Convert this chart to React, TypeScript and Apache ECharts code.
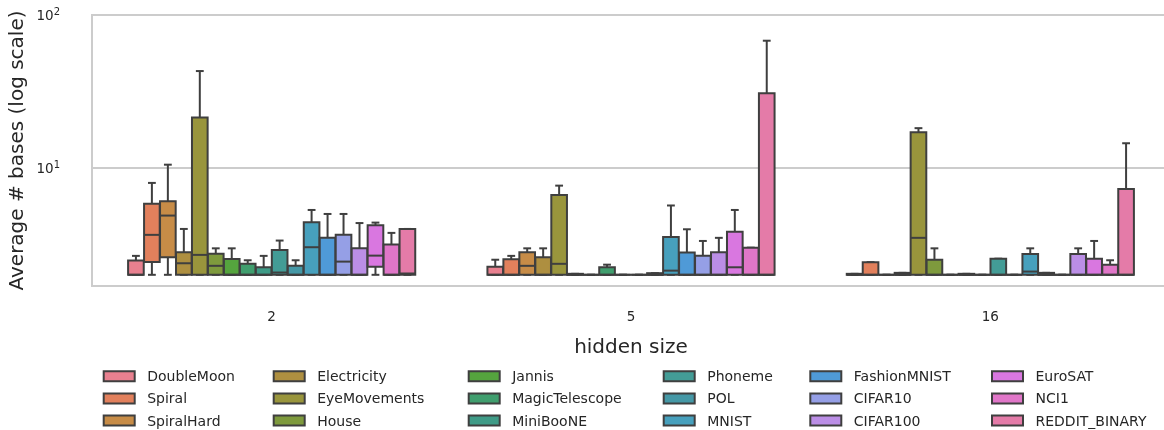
import React, { useEffect, useRef } from 'react';
import * as echarts from 'echarts';

const hiddenSizes = ['2', '5', '16'];

const datasetNames = [
  'DoubleMoon', 'Spiral', 'SpiralHard',
  'Electricity', 'EyeMovements', 'House',
  'Jannis', 'MagicTelescope', 'MiniBooNE',
  'Phoneme', 'POL', 'MNIST',
  'FashionMNIST', 'CIFAR10', 'CIFAR100',
  'EuroSAT', 'NCI1', 'REDDIT_BINARY',
];

const datasetColors = [
  '#e8808f', '#e2805c', '#c78c47',
  '#ae8f40', '#99953c', '#7e9a3d',
  '#55a43e', '#409e6e', '#3f9b87',
  '#439c96', '#4598a6', '#47a0bd',
  '#4f9ad7', '#959fe6', '#bb8ee6',
  '#d977e0', '#e076c8', '#e47ba8',
];

// [lower whisker, Q1, median, Q3, upper whisker] for hidden size 2, 5, 16
const doubleMoon = [[2, 2, 2, 2.48, 2.66], [2, 2, 2, 2.26, 2.51], [2, 2, 2, 2.03, 2.03]];
const spiral = [[2, 2.43, 3.65, 5.82, 7.98], [2, 2, 2, 2.53, 2.66], [2, 2, 2, 2.42, 2.42]];
const spiralHard = [[2, 2.61, 4.88, 6.05, 10.5], [2, 2, 2.29, 2.81, 2.98], [2, 2, 2, 2, 2]];
const electricity = [[2, 2, 2.38, 2.81, 3.99], [2, 2, 2, 2.61, 2.98], [2, 2, 2, 2.06, 2.06]];
const eyeMovements = [[2, 2, 2.7, 21.4, 43], [2, 2, 2.36, 6.66, 7.66], [2, 2, 3.49, 17.1, 18.2]];
const house = [[2, 2, 2.29, 2.75, 2.98], [2, 2, 2, 2.03, 2.03], [2, 2, 2, 2.51, 2.98]];
const jannis = [[2, 2, 2, 2.54, 2.98], [2, 2, 2, 2, 2], [2, 2, 2, 2, 2]];
const magicTelescope = [[2, 2, 2, 2.36, 2.49], [2, 2, 2, 2.24, 2.33], [2, 2, 2, 2.03, 2.03]];
const miniBooNE = [[2, 2, 2, 2.24, 2.66], [2, 2, 2, 2, 2], [2, 2, 2, 2, 2]];
const phoneme = [[2, 2, 2.07, 2.91, 3.35], [2, 2, 2, 2, 2], [2, 2, 2, 2.55, 2.55]];
const pol = [[2, 2, 2, 2.29, 2.49], [2, 2, 2, 2.05, 2.05], [2, 2, 2, 2, 2]];
const mnist = [[2, 2, 3.03, 4.42, 5.31], [2, 2, 2.13, 3.54, 5.68], [2, 2, 2.1, 2.74, 2.98]];
const fashionMnist = [[2, 2, 2, 3.49, 5.0], [2, 2, 2, 2.8, 3.97], [2, 2, 2, 2.06, 2.06]];
const cifar10 = [[2, 2, 2.44, 3.65, 5.0], [2, 2, 2, 2.66, 3.33], [2, 2, 2, 2, 2]];
const cifar100 = [[2, 2, 2, 2.98, 4.36], [2, 2, 2, 2.81, 3.49], [2, 2, 2, 2.74, 2.98]];
const euroSat = [[2, 2.26, 2.67, 4.22, 4.39], [2, 2, 2.24, 3.82, 5.31], [2, 2, 2, 2.55, 3.33]];
const nci1 = [[2, 2, 2, 3.16, 3.76], [2, 2, 2, 3.01, 3.01], [2, 2, 2, 2.33, 2.49]];
const redditBinary = [[2, 2, 2.04, 3.99, 3.99], [2, 2, 2, 30.8, 67.9], [2, 2, 2, 7.29, 14.5]];

const boxStats = [
  doubleMoon, spiral, spiralHard, electricity, eyeMovements, house,
  jannis, magicTelescope, miniBooNE, phoneme, pol, mnist,
  fashionMnist, cifar10, cifar100, euroSat, nci1, redditBinary,
];

const legendLefts = [102.7, 272.7, 467.7, 662.7, 809.3, 991];

export default function App() {
  const ref = useRef<HTMLDivElement>(null);

  useEffect(() => {
    const chart = echarts.init(ref.current!, null, { renderer: 'svg' });
    const N = datasetNames.length;
    const dark = '#3f3f3f';
    const textColor = '#262626';

    const series = datasetNames.map((name, h) => ({
      type: 'custom',
      name,
      itemStyle: { color: datasetColors[h], borderColor: dark, borderWidth: 2 },
      encode: { x: 0, y: [1, 2, 3, 4, 5] },
      data: boxStats[h].map((s, ci) => [ci, ...s]),
      renderItem: (params: any, api: any) => {
        const ci = api.value(0);
        const vals = [1, 2, 3, 4, 5].map((i) => api.value(i));
        const band = api.size([1, 0], [ci, 2])[0];
        const hueW = (band * 0.8) / N;
        const bw = hueW * 0.98;
        const cx = api.coord([ci, vals[0]])[0] + (h - (N - 1) / 2) * hueW;
        const [yLow, yQ1, yMed, yQ3, yHigh] = vals.map((v: number) => api.coord([ci, v])[1]);
        const ls = { stroke: dark, lineWidth: 2, fill: null };
        const capHalf = bw / 4;
        return {
          type: 'group',
          children: [
            { type: 'line', shape: { x1: cx, y1: yQ1, x2: cx, y2: yLow }, style: ls },
            { type: 'line', shape: { x1: cx - capHalf, y1: yLow, x2: cx + capHalf, y2: yLow }, style: ls },
            { type: 'line', shape: { x1: cx, y1: yQ3, x2: cx, y2: yHigh }, style: ls },
            { type: 'line', shape: { x1: cx - capHalf, y1: yHigh, x2: cx + capHalf, y2: yHigh }, style: ls },
            {
              type: 'rect',
              shape: { x: cx - bw / 2, y: yQ3, width: bw, height: yQ1 - yQ3 },
              style: { fill: datasetColors[h], stroke: dark, lineWidth: 2 },
            },
            { type: 'line', shape: { x1: cx - bw / 2, y1: yMed, x2: cx + bw / 2, y2: yMed }, style: ls },
          ],
        };
      },
    }));

    const legends = legendLefts.map((left, c) => ({
      left,
      top: 368.2,
      orient: 'vertical',
      padding: 0,
      itemWidth: 31,
      itemHeight: 10,
      itemGap: 6.2,
      selectedMode: false,
      textStyle: { fontSize: 14, color: textColor, lineHeight: 16, padding: [0, 0, 0, 7.5] },
      data: datasetNames.slice(c * 3, c * 3 + 3).map((name, k) => ({
        name,
        icon: 'rect',
        itemStyle: { color: datasetColors[c * 3 + k], borderColor: dark, borderWidth: 2 },
      })),
    }));

    chart.setOption({
      animation: false,
      textStyle: { fontFamily: 'DejaVu Sans' },
      grid: {
        left: 92,
        top: 15,
        width: 1078,
        height: 271,
        outerBoundsMode: 'none',
        containLabel: false,
        show: true,
        borderColor: '#cccccc',
        borderWidth: 2,
        backgroundColor: 'transparent',
      },
      legend: legends,
      xAxis: {
        type: 'category',
        data: hiddenSizes,
        axisLine: { show: false },
        axisTick: { show: false },
        axisLabel: { margin: 23, fontSize: 13.5, color: textColor },
        name: 'hidden size',
        nameLocation: 'middle',
        nameGap: 50,
        nameTextStyle: { fontSize: 20, color: textColor },
      },
      yAxis: {
        type: 'log',
        logBase: 10,
        min: 1.69,
        max: 100,
        axisLine: { show: false },
        axisTick: { show: false },
        splitLine: { show: true, lineStyle: { color: '#cccccc', width: 2 } },
        axisLabel: {
          margin: 32,
          align: 'right',
          color: textColor,
          formatter: (v: number) => {
            const e = Math.log10(v);
            if (Math.abs(e - Math.round(e)) > 1e-6) return '';
            return `{b|10}{s|${Math.round(e)}}`;
          },
          rich: {
            b: { fontSize: 13.5, color: textColor, lineHeight: 17, align: 'right' },
            s: { fontSize: 10, color: textColor, lineHeight: 10, verticalAlign: 'top', align: 'right' },
          },
        },
        name: 'Average # bases (log scale)',
        nameLocation: 'middle',
        nameGap: 56,
        nameTextStyle: { fontSize: 20, color: textColor },
      },
      series,
    });

    return () => chart.dispose();
  }, []);

  return (
    <div style={{ position: 'fixed', left: 0, top: 0, width: 1164, height: 430, overflow: 'hidden' }}>
      <div ref={ref} style={{ width: 1164, height: 430 }} />
    </div>
  );
}
